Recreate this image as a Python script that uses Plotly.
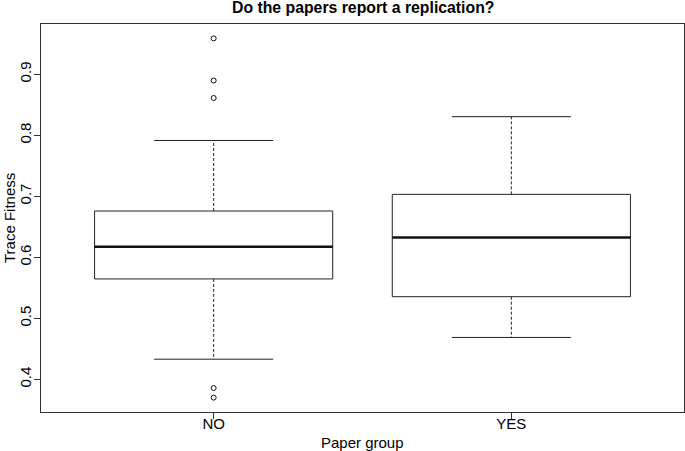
import plotly.graph_objects as go

groups = ["NO", "YES"]
lower_whisker = [0.433, 0.4686]
q1 = [0.5645, 0.5354]
median = [0.6171, 0.6324]
q3 = [0.6758, 0.7031]
upper_whisker = [0.7914, 0.8304]
outliers_no = [0.9587, 0.8896, 0.861, 0.3857, 0.370]
outliers_yes = []
y_ticks = [0.4, 0.5, 0.6, 0.7, 0.8, 0.9]

pos = list(range(1, len(groups) + 1))
half = 0.4
cap = 0.2

box_x, box_y = [], []
med_x, med_y = [], []
wh_x, wh_y = [], []
cap_x, cap_y = [], []
for i, p in enumerate(pos):
    box_x += [p - half, p + half, p + half, p - half, p - half, None]
    box_y += [q1[i], q1[i], q3[i], q3[i], q1[i], None]
    med_x += [p - half, p + half, None]
    med_y += [median[i], median[i], None]
    wh_x += [p, p, None, p, p, None]
    wh_y += [q3[i], upper_whisker[i], None, q1[i], lower_whisker[i], None]
    cap_x += [p - cap, p + cap, None, p - cap, p + cap, None]
    cap_y += [upper_whisker[i], upper_whisker[i], None, lower_whisker[i], lower_whisker[i], None]

out_x = [1] * len(outliers_no) + [2] * len(outliers_yes)
out_y = outliers_no + outliers_yes

fig = go.Figure()
fig.add_trace(go.Scatter(x=wh_x, y=wh_y, mode="lines",
                         line=dict(color="#222", width=1, dash="3px,2px"), hoverinfo="skip"))
fig.add_trace(go.Scatter(x=cap_x, y=cap_y, mode="lines",
                         line=dict(color="#222", width=1), hoverinfo="skip"))
fig.add_trace(go.Scatter(x=box_x, y=box_y, mode="lines",
                         line=dict(color="#222", width=1), hoverinfo="skip"))
fig.add_trace(go.Scatter(x=med_x, y=med_y, mode="lines",
                         line=dict(color="#111", width=2.5), hoverinfo="skip"))
fig.add_trace(go.Scatter(x=out_x, y=out_y, mode="markers",
                         marker=dict(symbol="circle-open", size=5, color="#111",
                                     line=dict(width=1, color="#111")), hoverinfo="skip"))

all_vals = lower_whisker + upper_whisker + out_y
lo, hi = min(all_vals), max(all_vals)
ext = (hi - lo) * 0.04
yr = [lo - ext, hi + ext]
xr = [0.5 - 0.04 * len(groups), len(groups) + 0.5 + 0.04 * len(groups)]

W, H = 685, 451
L, R, T, B = 41, 1, 24, 39
font = "Liberation Sans, Arial, Helvetica, sans-serif"
fig.update_layout(
    width=W, height=H,
    margin=dict(l=L, r=R, t=T, b=B, autoexpand=False),
    paper_bgcolor="white", plot_bgcolor="white",
    showlegend=False,
    font=dict(family=font, size=15, color="black"),
    xaxis=dict(range=xr, tickvals=pos, ticktext=groups, showgrid=False, zeroline=False,
               showline=True, linecolor="#333", linewidth=1, mirror=True,
               ticks="outside", ticklen=6, tickcolor="#333", tickfont=dict(size=15),
               ticklabelstandoff=-8),
    yaxis=dict(range=yr, tickvals=y_ticks, ticktext=[str(t) for t in y_ticks],
               showgrid=False, zeroline=False,
               showline=True, linecolor="#333", linewidth=1, mirror=True,
               ticks="outside", ticklen=6, tickcolor="#333", tickangle=-90,
               tickfont=dict(size=15), ticklabelstandoff=-3),
)
plot_h = H - T - B
plot_w = W - L - R
fig.update_layout(annotations=[
    dict(text="<b>Do the papers report a replication?</b>", x=0.5, y=1 + (T - 8) / plot_h,
         xref="paper", yref="paper", showarrow=False, font=dict(size=15.8),
         xanchor="center", yanchor="middle"),
    dict(text="Paper group", x=0.5, y=-(442 - (H - B)) / plot_h, xref="paper", yref="paper",
         showarrow=False, font=dict(size=15), xanchor="center", yanchor="middle"),
    dict(text="Trace Fitness", x=-(L - 9) / plot_w, y=0.5, xref="paper", yref="paper",
         textangle=-90, showarrow=False, font=dict(size=15),
         xanchor="center", yanchor="middle"),
])

fig.write_html("out.html", config={"displayModeBar": False},
               post_script="document.body.style.margin='0';")
